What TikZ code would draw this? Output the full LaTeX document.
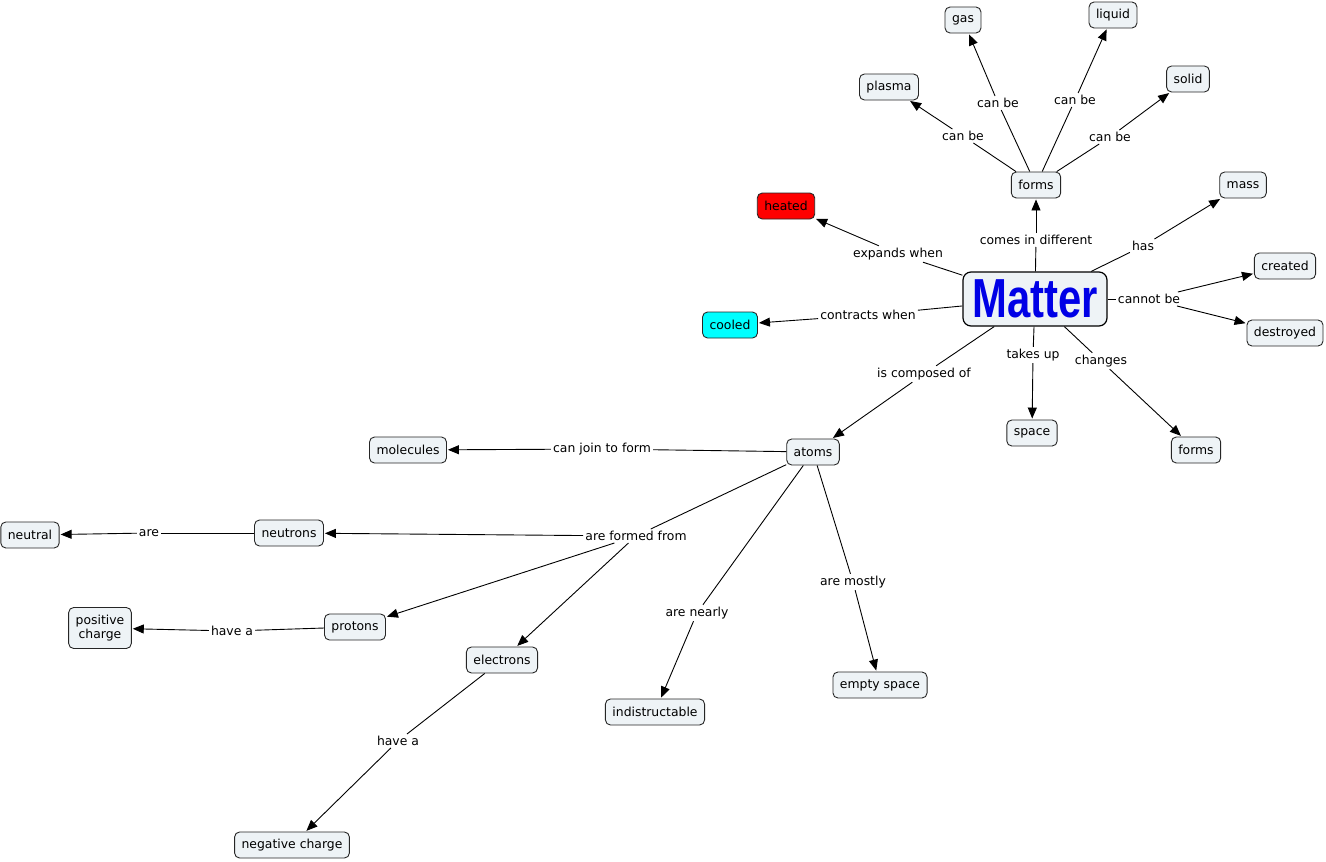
\documentclass[tikz,border=0pt]{standalone}
\usepackage{fontspec}
\usepackage{graphicx}
\setmainfont{DejaVu Sans}
\newfontfamily\matterfont{Liberation Sans}
\usetikzlibrary{arrows.meta}
\definecolor{nodefill}{HTML}{EEF3F6}
\definecolor{matterblue}{HTML}{0000E6}
\definecolor{hotred}{HTML}{FF0000}
\definecolor{coolcyan}{HTML}{00FFFF}
\begin{document}
\begin{tikzpicture}[x=1pt,y=-1pt,
  concept/.style={draw=black!85, fill=nodefill, rounded corners=5pt, line width=0.9pt,
    minimum height=26pt, inner xsep=7pt, inner ysep=3pt,
    font=\fontsize{12.4}{14}\selectfont, align=center},
  linkph/.style={inner sep=2pt, font=\fontsize{12.4}{14}\selectfont},
  conn/.style={line width=0.9pt},
  arr/.style={line width=0.9pt, -{Triangle[length=11pt,width=9pt]}, shorten >=1pt},
]
\useasboundingbox (0,0) rectangle (1326,862);

% concepts
\node[concept, draw=black, fill=nodefill, rounded corners=8pt, line width=1.2pt,
  minimum width=144pt, minimum height=54pt, inner sep=0pt] (matter) at (1035,299)
  {\scalebox{0.76}[1]{\color{matterblue}\matterfont\bfseries\fontsize{55}{55}\selectfont Matter}};
\node[concept] (formsA) at (1036,185) {forms};
\node[concept] (gas) at (963,20) {gas};
\node[concept] (liquid) at (1113,15) {liquid};
\node[concept] (plasma) at (889,87) {plasma};
\node[concept] (solid) at (1188,79) {solid};
\node[concept] (mass) at (1243,185) {mass};
\node[concept] (created) at (1285,266) {created};
\node[concept] (destroyed) at (1285,333) {destroyed};
\node[concept, fill=hotred] (heated) at (786,206) {heated};
\node[concept, fill=coolcyan] (cooled) at (730,325) {cooled};
\node[concept] (space) at (1032,433) {space};
\node[concept] (formsB) at (1196,450) {forms};
\node[concept] (atoms) at (813,452) {atoms};
\node[concept] (molecules) at (408,450) {molecules};
\node[concept] (neutral) at (30,535) {neutral};
\node[concept] (neutrons) at (289,533) {neutrons};
\node[concept, minimum height=41pt] (poscharge) at (100,628) {positive\\charge};
\node[concept] (protons) at (355,627) {protons};
\node[concept] (electrons) at (502,660) {electrons};
\node[concept] (indis) at (655,712) {indistructable};
\node[concept] (empty) at (880,685) {empty space};
\node[concept] (negcharge) at (292,845) {negative charge};

% linking phrases
\node[linkph] (lcomes) at (1036,240) {comes in different};
\node[linkph] (lhas) at (1143,246) {has};
\node[linkph] (lcannot) at (1149,299) {cannot be};
\node[linkph] (lexpands) at (898,254) {expands when};
\node[linkph] (lcontracts) at (868,315) {contracts when};
\node[linkph] (lcomposed) at (924,374) {is composed of};
\node[linkph] (ltakes) at (1033,355) {takes up};
\node[linkph] (lchanges) at (1101,361) {changes};
\node[linkph] (lcbplasma) at (963,136) {can be};
\node[linkph] (lcbgas) at (998,103) {can be};
\node[linkph] (lcbliquid) at (1075,100) {can be};
\node[linkph] (lcbsolid) at (1110,137) {can be};
\node[linkph] (ljoin) at (602,449) {can join to form};
\node[linkph] (lformed) at (636,536) {are formed from};
\node[linkph] (lnearly) at (697,613) {are nearly};
\node[linkph] (lmostly) at (853,582) {are mostly};
\node[linkph] (lare) at (149,533) {are};
\node[linkph] (lhavep) at (232,631) {have a};
\node[linkph] (lhavee) at (398,741) {have a};

% connections
\draw[conn] (matter) -- (lcomes);  \draw[arr] (lcomes) -- (formsA);
\draw[conn] (matter) -- (lhas);    \draw[arr] (lhas) -- (mass);
\draw[conn] (matter) -- (lcannot); \draw[arr] (lcannot) -- (created);
\draw[arr] (lcannot) -- (destroyed);
\draw[conn] (matter) -- (lexpands);   \draw[arr] (lexpands) -- (heated);
\draw[conn] (matter) -- (lcontracts); \draw[arr] (lcontracts) -- (cooled);
\draw[conn] (matter) -- (lcomposed);  \draw[arr] (lcomposed) -- (atoms);
\draw[conn] (matter) -- (ltakes);     \draw[arr] (ltakes) -- (space);
\draw[conn] (matter) -- (lchanges);   \draw[arr] (lchanges) -- (formsB);

\draw[conn] (formsA) -- (lcbplasma); \draw[arr] (lcbplasma) -- (plasma);
\draw[conn] (formsA) -- (lcbgas);    \draw[arr] (lcbgas) -- (gas);
\draw[conn] (formsA) -- (lcbliquid); \draw[arr] (lcbliquid) -- (liquid);
\draw[conn] (formsA) -- (lcbsolid);  \draw[arr] (lcbsolid) -- (solid);

\draw[conn] (atoms) -- (ljoin);   \draw[arr] (ljoin) -- (molecules);
\draw[conn] (atoms) -- (lformed);
\draw[arr] (lformed) -- (neutrons);
\draw[arr] (lformed) -- (protons);
\draw[arr] (lformed) -- (electrons);
\draw[conn] (atoms) -- (lnearly); \draw[arr] (lnearly) -- (indis);
\draw[conn] (atoms) -- (lmostly); \draw[arr] (lmostly) -- (empty);

\draw[conn] (neutrons) -- (lare);  \draw[arr] (lare) -- (neutral);
\draw[conn] (protons) -- (lhavep); \draw[arr] (lhavep) -- (poscharge);
\draw[conn] (electrons) -- (lhavee); \draw[arr] (lhavee) -- (negcharge);
\end{tikzpicture}
\end{document}
